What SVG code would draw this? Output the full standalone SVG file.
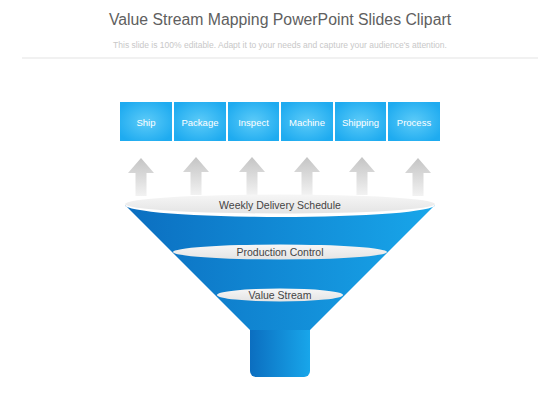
<svg xmlns="http://www.w3.org/2000/svg" width="560" height="420" viewBox="0 0 560 420">
<defs>
<radialGradient id="boxG" cx="0.5" cy="0.5" r="0.6">
<stop offset="0" stop-color="#5ccbf8"/>
<stop offset="1" stop-color="#1eabf0"/>
</radialGradient>
<linearGradient id="arrowG" x1="0" y1="0" x2="0" y2="1">
<stop offset="0" stop-color="#c4c4c4"/>
<stop offset="1" stop-color="#f2f2f2"/>
</linearGradient>
<linearGradient id="coneG" x1="0" y1="0" x2="1" y2="0">
<stop offset="0" stop-color="#0b6ec0"/>
<stop offset="1" stop-color="#18a6ea"/>
</linearGradient>
<linearGradient id="ellG" x1="0" y1="0" x2="0" y2="1">
<stop offset="0" stop-color="#f6f6f6"/>
<stop offset="1" stop-color="#e4e4e4"/>
</linearGradient>
<symbol id="arrow" overflow="visible">
<path d="M0,-38 L13,-23 L5.5,-23 L5.5,0 L-5.5,0 L-5.5,-23 L-13,-23 Z" fill="url(#arrowG)"/>
</symbol>
</defs>
<style>
.title{font-family:"Liberation Sans",Arial,sans-serif;font-size:15.8px;fill:#606060;text-anchor:middle}
.sub{font-family:"Liberation Sans",Arial,sans-serif;font-size:8.5px;fill:#c8c8c8;text-anchor:middle}
.box{fill:url(#boxG)}
.bt{font-family:"Liberation Sans",Arial,sans-serif;font-size:9.5px;fill:#ffffff;text-anchor:middle}
.et{font-family:"Liberation Sans",Arial,sans-serif;font-size:10.5px;fill:#444444;text-anchor:middle}
.ell{fill:url(#ellG)}
</style>
<rect width="560" height="420" fill="#ffffff"/>
<text class="title" x="280" y="24.5">Value Stream Mapping PowerPoint Slides Clipart</text>
<text class="sub" x="280" y="48">This slide is 100% editable. Adapt it to your needs and capture your audience's attention.</text>
<line x1="22" y1="58" x2="538" y2="58" stroke="#ececec" stroke-width="1.5"/>

<g id="box-ship"><rect class="box" x="120" y="102" width="52" height="39"/><text class="bt" x="146" y="126">Ship</text></g>
<g id="box-package"><rect class="box" x="174" y="102" width="52" height="39"/><text class="bt" x="200" y="126">Package</text></g>
<g id="box-inspect"><rect class="box" x="228" y="102" width="51" height="39"/><text class="bt" x="253.5" y="126">Inspect</text></g>
<g id="box-machine"><rect class="box" x="281" y="102" width="52" height="39"/><text class="bt" x="307" y="126">Machine</text></g>
<g id="box-shipping"><rect class="box" x="335" y="102" width="51" height="39"/><text class="bt" x="360.5" y="126">Shipping</text></g>
<g id="box-process"><rect class="box" x="388" y="102" width="52" height="39"/><text class="bt" x="414" y="126">Process</text></g>

<g id="connectors">
<use href="#arrow" x="141" y="196"/>
<use href="#arrow" x="196" y="195"/>
<use href="#arrow" x="252" y="195"/>
<use href="#arrow" x="307" y="195"/>
<use href="#arrow" x="362" y="195"/>
<use href="#arrow" x="418" y="196"/>
</g>

<g id="funnel">
<rect x="250" y="318" width="60" height="59" rx="6" fill="url(#coneG)"/>
<path d="M125,205 L250,330 L310,330 L435,205 A155,12 0 0 1 125,205 Z" fill="url(#coneG)"/>
</g>
<g id="weekly"><ellipse class="ell" cx="280" cy="204" rx="155" ry="9.5"/><text class="et" x="280" y="209">Weekly Delivery Schedule</text></g>
<g id="production"><ellipse class="ell" cx="280" cy="252" rx="107" ry="7.5"/><text class="et" x="280" y="256">Production Control</text></g>
<g id="value"><ellipse class="ell" cx="280" cy="295" rx="63" ry="6.5"/><text class="et" x="280" y="299">Value Stream</text></g>
</svg>
